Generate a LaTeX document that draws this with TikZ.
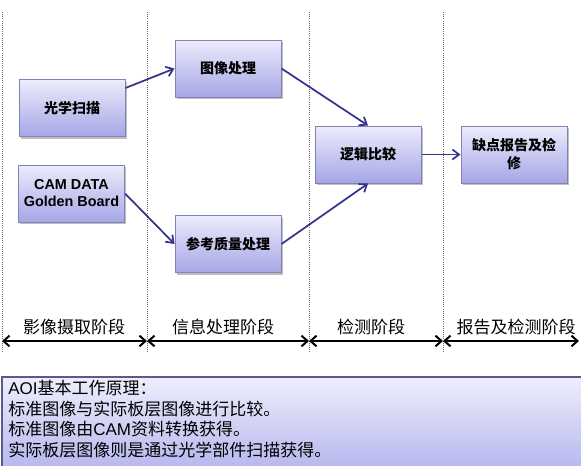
\documentclass[tikz,border=0pt]{standalone}
\usepackage{fontspec}
\setmainfont{Noto Sans CJK SC}
\newfontfamily\lat{Liberation Sans}
\usetikzlibrary{arrows.meta,shadows}
\definecolor{boxtop}{RGB}{236,236,252}
\definecolor{boxbot}{RGB}{166,166,230}
\definecolor{boxborder}{RGB}{130,130,185}
\definecolor{arrowc}{RGB}{52,52,140}
\definecolor{notetop}{RGB}{238,238,252}
\definecolor{notebot}{RGB}{176,176,236}
\definecolor{noteborder}{RGB}{90,90,140}
\definecolor{vgray}{RGB}{110,110,110}
\begin{document}
\begin{tikzpicture}[x=0.75pt,y=-0.75pt,
  stepbox/.style={draw=boxborder, line width=0.75pt, top color=boxtop, bottom color=boxbot,
    minimum width=79.5pt, minimum height=42.75pt, inner sep=2pt, align=center,
    drop shadow={shadow xshift=1.2pt, shadow yshift=-1.5pt, opacity=0.25, fill=black},
    font=\bfseries\fontsize{10.5}{13.5}\selectfont},
  flow/.style={draw=arrowc, line width=1.3pt, -{Straight Barb[length=5pt,width=7.5pt]}},
  phasearrow/.style={draw=black, line width=1.5pt, {Straight Barb[length=4.5pt,width=8pt]}-{Straight Barb[length=4.5pt,width=8pt]}},
  phaselabel/.style={font=\fontsize{12.75}{15}\selectfont, inner sep=0pt},
  vline/.style={draw=vgray, line width=0.6pt, densely dotted},
  noteline/.style={anchor=base west, inner sep=0pt, font=\fontsize{12.75}{15.2}\selectfont}
]
\useasboundingbox (0,0) rectangle (581,465);
\clip (0,0) rectangle (581,465);
% vertical dotted separators
\coordinate (t0) at (2,12);   \coordinate (b0) at (2,352);
\coordinate (t1) at (147,12); \coordinate (b1) at (147,352);
\coordinate (t2) at (309,12); \coordinate (b2) at (309,352);
\coordinate (t3) at (443,12); \coordinate (b3) at (443,352);
\draw[vline] (t0) -- (b0);
\draw[vline] (t1) -- (b1);
\draw[vline] (t2) -- (b2);
\draw[vline] (t3) -- (b3);
% boxes
\node[stepbox] (A) at (72,108) {光学扫描};
\node[stepbox, font=\lat\bfseries\fontsize{10.8}{12.75}\selectfont] (B) at (71.5,193.5) {CAM DATA\\Golden Board};
\node[stepbox] (C) at (228,68.5) {图像处理};
\node[stepbox] (D) at (228,244) {参考质量处理};
\node[stepbox] (E) at (368,154.5) {逻辑比较};
\node[stepbox] (F) at (514,154.5) {缺点报告及检\\修};
% flow arrows
\draw[flow] ([yshift=15pt]A.east) -- (C.west);
\draw[flow] (B.east) -- (D.west);
\draw[flow] (C.east) -- (E.north);
\draw[flow] (D.east) -- (E.south);
\draw[flow] (E.east) -- (F.west);
% phase arrows
\coordinate (p0) at (2,341);
\coordinate (p1) at (147,341);
\coordinate (p2) at (309,341);
\coordinate (p3) at (443,341);
\coordinate (p4) at (579,341);
\draw[phasearrow] (p0) -- (p1);
\draw[phasearrow] (p1) -- (p2);
\draw[phasearrow] (p2) -- (p3);
\draw[phasearrow] (p3) -- (p4);
\node[phaselabel] (l1) at (74,327) {影像摄取阶段};
\node[phaselabel] (l2) at (223,327) {信息处理阶段};
\node[phaselabel] (l3) at (371,327) {检测阶段};
\node[phaselabel] (l4) at (516,327) {报告及检测阶段};
% note box
\path[draw=noteborder, line width=0.8pt, top color=notetop, bottom color=notebot] (2,377) rectangle (600,480);
\node[noteline] (n1) at (8,394.5) {{\lat AOI}基本工作原理：};
\node[noteline] (n2) at (8,415) {标准图像与实际板层图像进行比较。};
\node[noteline] (n3) at (8,435.5) {标准图像由{\lat CAM}资料转换获得。};
\node[noteline] (n4) at (8,456) {实际板层图像则是通过光学部件扫描获得。};
\end{tikzpicture}
\end{document}
